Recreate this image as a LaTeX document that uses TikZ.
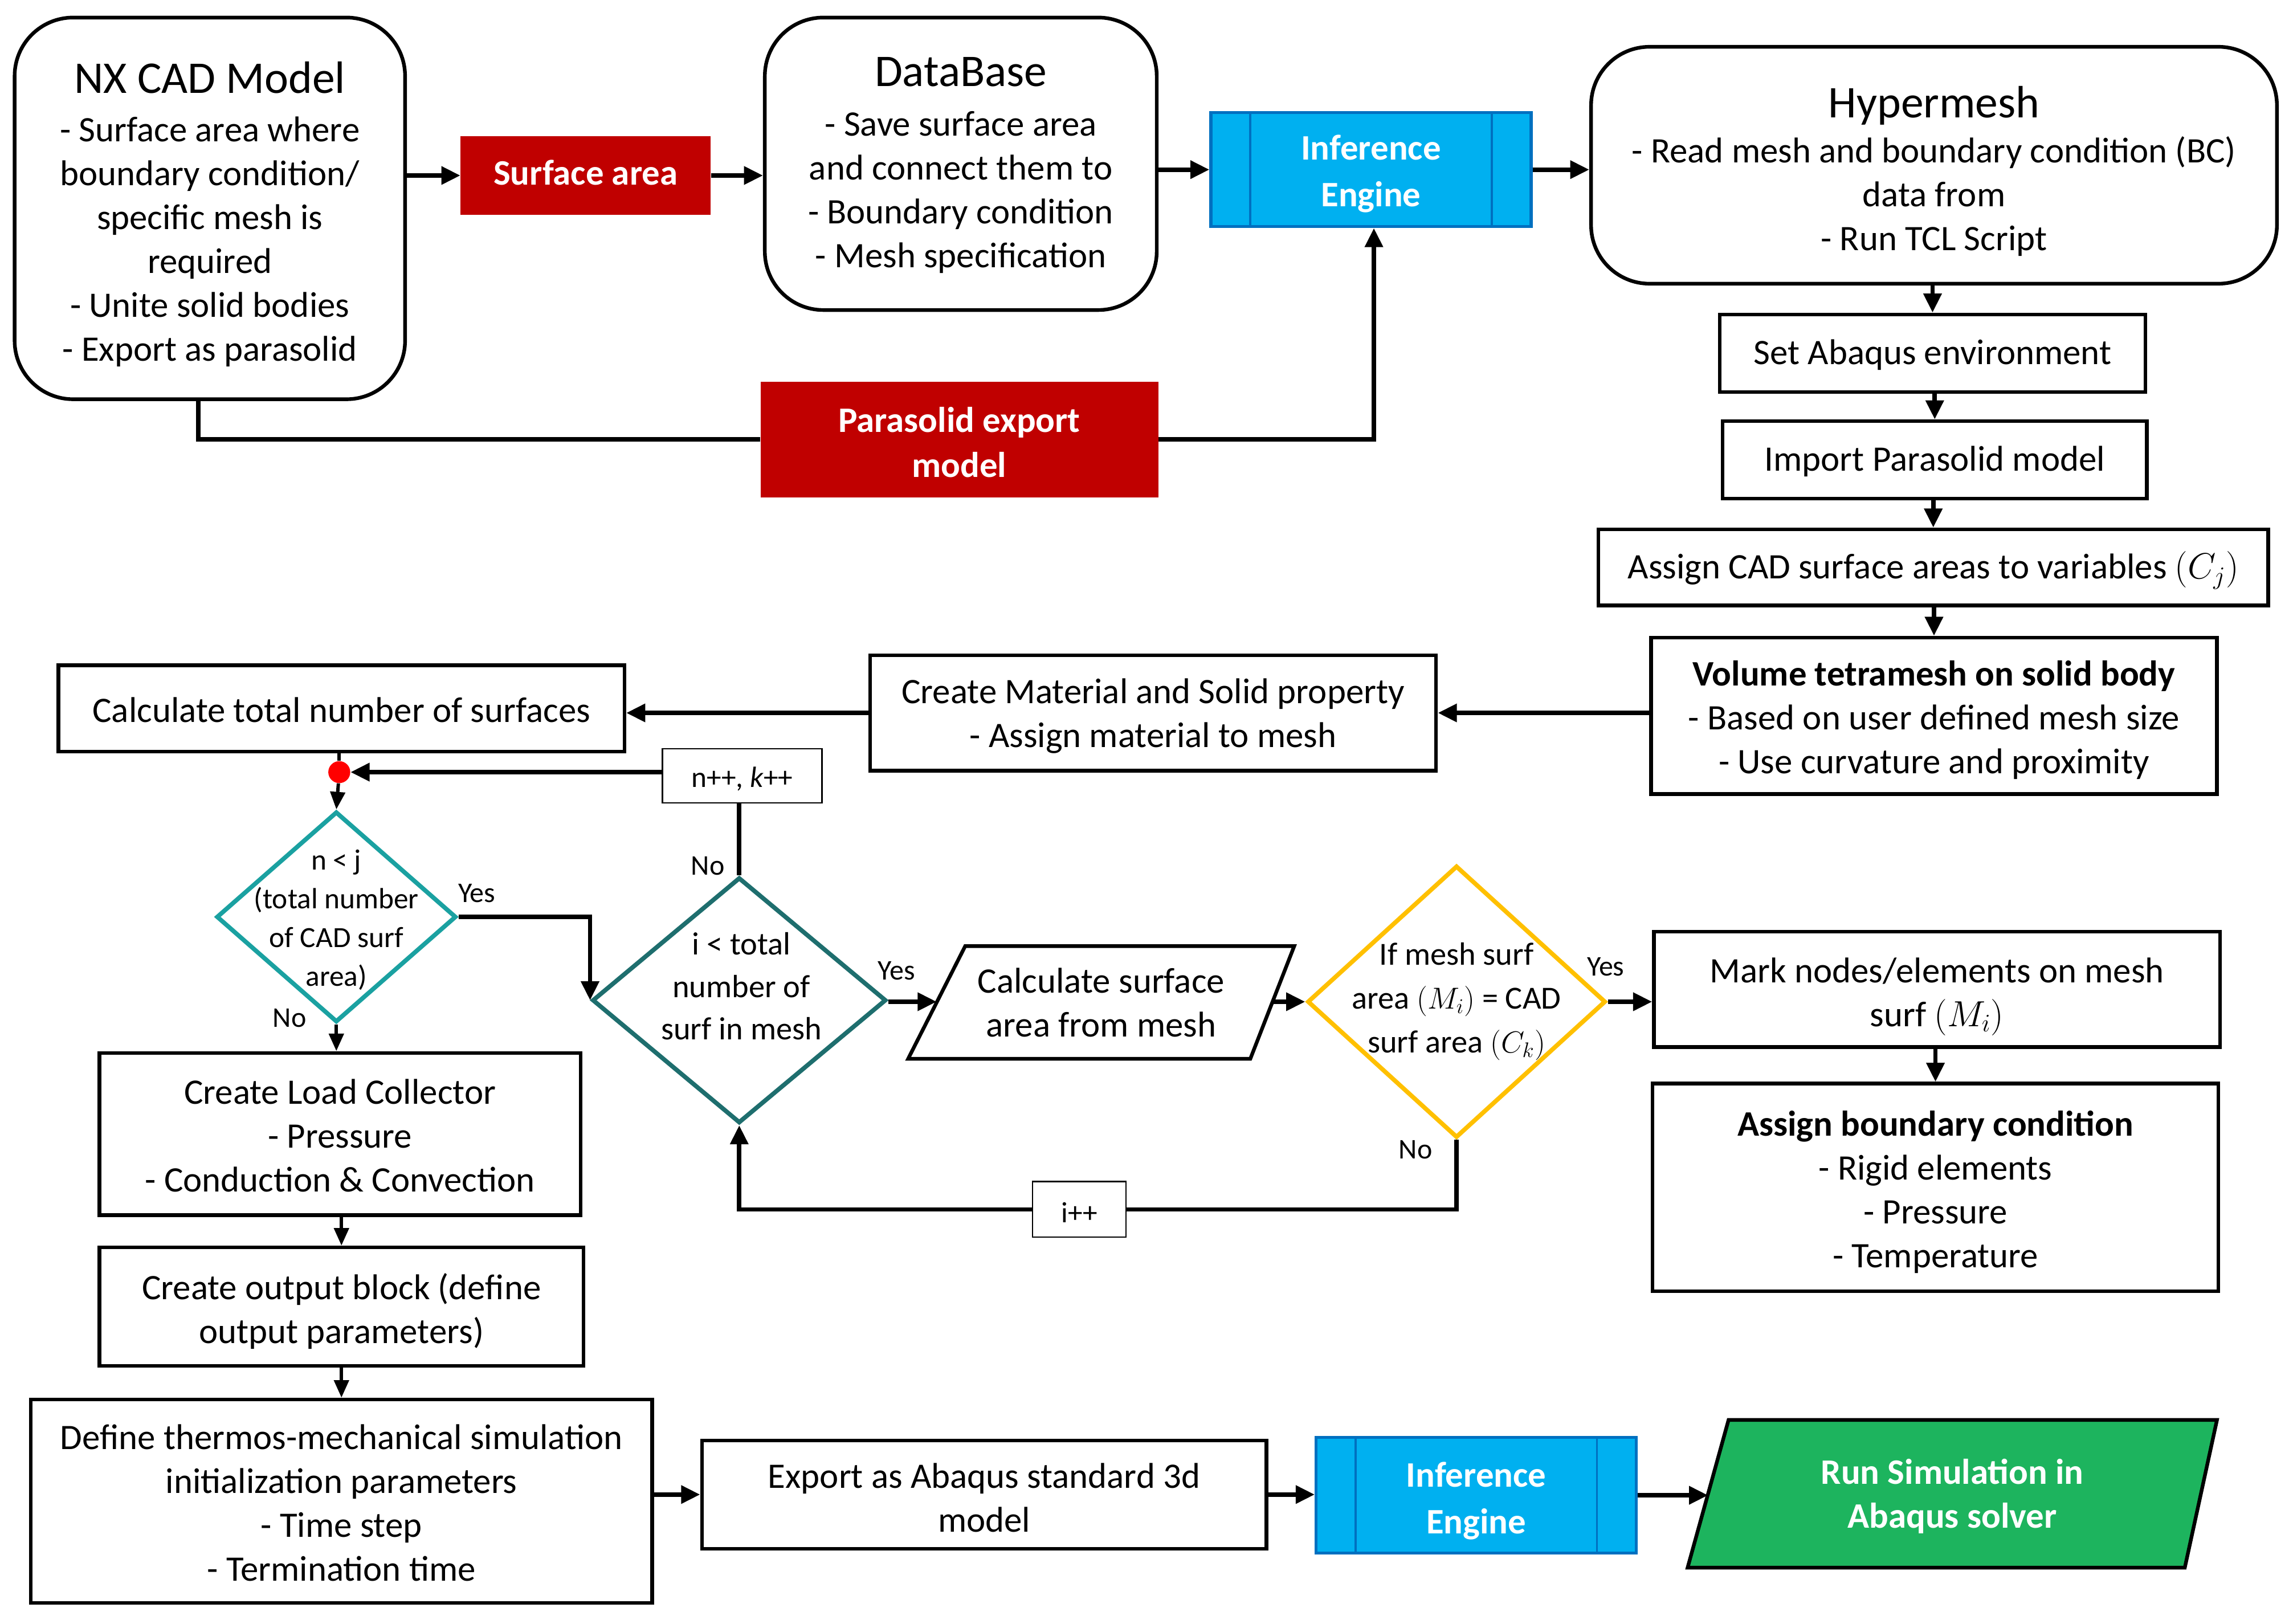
\documentclass[tikz,border=0pt]{standalone}
\usepackage{fontspec}
\setmainfont{Carlito}
\usetikzlibrary{arrows.meta,shapes.geometric}
\definecolor{cred}{HTML}{C00000}
\definecolor{cblue}{HTML}{00B0F0}
\definecolor{cblueb}{HTML}{0070C0}
\definecolor{cgreen}{HTML}{1DB45E}
\definecolor{cteal}{HTML}{1AA1A1}
\definecolor{cdteal}{HTML}{1E6E6E}
\definecolor{cyel}{HTML}{FFC000}
\tikzset{
  txt/.style={inner sep=0pt, align=center, font=\fontsize{24.5}{30}\selectfont},
  wtxt/.style={inner sep=0pt, align=center, text=white, font=\fontsize{24.5}{31}\selectfont\bfseries},
  box/.style={inner sep=0pt, draw, line width=2.5pt, rectangle},
  rbox/.style={box, rounded corners=40pt},
  thinbox/.style={inner sep=0pt, draw, line width=1pt},
  stxt/.style={inner sep=0pt, align=center, font=\fontsize{20}{24}\selectfont},
  redbox/.style={inner sep=0pt, fill=cred},
  iebox/.style={inner sep=0pt, fill=cblue, draw=cblueb, line width=2pt},
  dia/.style={diamond, draw, line width=3pt, inner sep=0pt},
  para/.style={draw, line width=2.5pt, line join=miter},
  arr/.style={line width=3pt, -{Triangle[length=13pt,width=12pt]}},
  sarr/.style={line width=2.3pt, -{Triangle[length=12pt,width=10pt]}},
  conn/.style={line width=3pt},
  lab/.style={font=\fontsize{19.5}{22}\selectfont, inner sep=0pt}
}
\begin{document}
\begin{tikzpicture}[x=1pt,y=-1pt]
\useasboundingbox (0,0) rectangle (1568,1110.5);
\fill[white] (0,0) rectangle (1568,1110.5);

% top row
\node[rbox, minimum width=267pt, minimum height=261pt] (nx) at (143.5,142.5) {};
\node[txt, yshift=-4pt] (nxt) at (nx) {{\fontsize{31}{30}\selectfont NX CAD Model}\\[3pt]- Surface area where\\boundary condition/\\specific mesh is\\required\\- Unite solid bodies\\- Export as parasolid};
\node[redbox, minimum width=171pt, minimum height=54pt] (sa) at (400.5,120) {};
\node[wtxt, yshift=2pt] (sat) at (sa) {Surface area};
\node[rbox, minimum width=268pt, minimum height=200pt] (db) at (657,112) {};
\node[txt, yshift=-1pt] (dbt) at (db) {{\fontsize{31}{30}\selectfont DataBase}\\[4pt]- Save surface area\\and connect them to\\- Boundary condition\\- Mesh specification};
\node[iebox, minimum width=219pt, minimum height=78pt] (ie1) at (937.5,116) {};
\draw[cblueb, line width=1.5pt] ([xshift=28pt]ie1.north west) -- ([xshift=28pt]ie1.south west);
\draw[cblueb, line width=1.5pt] ([xshift=-28pt]ie1.north east) -- ([xshift=-28pt]ie1.south east);
\node[wtxt, yshift=-3pt, font=\fontsize{24.5}{32}\selectfont\bfseries] (ie1t) at (ie1) {Inference\\Engine};
\node[rbox, minimum width=469pt, minimum height=162pt] (hm) at (1322.5,113) {};
\node[txt, yshift=-4pt] (hmt) at (hm) {{\fontsize{31}{30}\selectfont Hypermesh}\\[1pt]- Read mesh and boundary condition (BC)\\data from\\- Run TCL Script};
\node[redbox, minimum width=272pt, minimum height=79pt] (pe) at (656,300.5) {};
\node[wtxt, yshift=-2pt] (pet) at (pe) {Parasolid export\\model};

% right column
\node[box, minimum width=291pt, minimum height=53pt] (sae) at (1321.5,241.5) {};
\node[txt, yshift=-1pt] (saet) at (sae) {Set Abaqus environment};
\node[box, minimum width=290pt, minimum height=53pt] (ipm) at (1323,314.5) {};
\node[txt, yshift=-1pt] (ipmt) at (ipm) {Import Parasolid model};
\node[box, minimum width=458pt, minimum height=52pt] (acs) at (1322,388) {};
\node[txt, yshift=-2pt] (acst) at (acs) {Assign CAD surface areas to variables $(C_j)$};
\node[box, minimum width=387pt, minimum height=107pt] (vt) at (1322.5,489.5) {};
\node[txt, yshift=-3pt] (vtt) at (vt) {\textbf{Volume tetramesh on solid body}\\- Based on user defined mesh size\\- Use curvature and proximity};
\node[box, minimum width=387pt, minimum height=79pt] (cm) at (788.5,487.5) {};
\node[txt, yshift=-2pt] (cmt) at (cm) {Create Material and Solid property\\- Assign material to mesh};
\node[box, minimum width=387pt, minimum height=59pt] (ct) at (233.5,484.5) {};
\node[txt, yshift=-1pt] (ctt) at (ct) {Calculate total number of surfaces};

% loop
\node[circle, fill=red, minimum size=15pt, inner sep=0pt] (dot) at (232,528) {};
\node[thinbox, minimum width=109pt, minimum height=37pt] (nk) at (507.5,530.5) {};
\node[stxt, yshift=-2pt] (nkt) at (nk) {n++, \textit{k}++};
\node[dia, draw=cteal, minimum width=164pt, minimum height=144pt] (d1) at (230,627) {};
\node[txt, font=\fontsize{20}{26.5}\selectfont] (d1t) at (230,629) {n < j\\(total number\\of CAD surf\\area)};
\node[dia, draw=cdteal, minimum width=201pt, minimum height=168pt] (d2) at (505.5,684) {};
\node[txt, font=\fontsize{22}{29}\selectfont] (d2t) at (507,674.5) {i < total\\number of\\surf in mesh};
% parallelogram: calculate surface area
\draw[para] (660,647) -- (885,647) -- (855,724) -- (621,724) -- cycle;
\coordinate (paw) at (640.5,685);
\coordinate (pae) at (870,685);
\node[txt] (pat) at (753,685.5) {Calculate surface\\area from mesh};
\node[dia, draw=cyel, minimum width=204pt, minimum height=186pt] (d3) at (996,685) {};
\node[txt, font=\fontsize{22}{30}\selectfont] (d3t) at (996,685) {If mesh surf\\area $(M_i)$ = CAD\\surf area $(C_k)$};
\node[thinbox, minimum width=64pt, minimum height=38pt] (ipp) at (738,827) {};
\node[stxt, yshift=-2pt] (ippt) at (ipp) {i++};
\node[box, minimum width=387pt, minimum height=79pt] (mn) at (1324.5,676.5) {};
\node[txt, yshift=-5pt] (mnt) at (mn) {Mark nodes/elements on mesh\\surf $(M_i)$};
\node[box, minimum width=387pt, minimum height=142pt] (ab) at (1323.5,812) {};
\node[txt, yshift=-3pt] (abt) at (ab) {\textbf{Assign boundary condition}\\- Rigid elements\\- Pressure\\- Temperature};

% left column
\node[box, minimum width=329pt, minimum height=111pt] (lc) at (232.5,775.5) {};
\node[txt, yshift=-1pt] (lct) at (lc) {Create Load Collector\\- Pressure\\- Conduction \& Convection};
\node[box, minimum width=331pt, minimum height=81pt] (ob) at (233.5,893.5) {};
\node[txt, yshift=-3pt] (obt) at (ob) {Create output block (define\\output parameters)};
\node[box, minimum width=425pt, minimum height=139pt] (df) at (233.5,1026.5) {};
\node[txt, yshift=-1pt] (dft) at (df) {Define thermos-mechanical simulation\\initialization parameters\\- Time step\\- Termination time};
\node[box, minimum width=386pt, minimum height=74pt] (ex) at (673,1022) {};
\node[txt, yshift=-2pt] (ext) at (ex) {Export as Abaqus standard 3d\\model};
\node[iebox, minimum width=219pt, minimum height=79pt] (ie2) at (1009.5,1022.5) {};
\draw[cblueb, line width=1.5pt] ([xshift=28pt]ie2.north west) -- ([xshift=28pt]ie2.south west);
\draw[cblueb, line width=1.5pt] ([xshift=-28pt]ie2.north east) -- ([xshift=-28pt]ie2.south east);
\node[wtxt, yshift=-4pt, font=\fontsize{24.5}{32}\selectfont\bfseries] (ie2t) at (ie2) {Inference\\Engine};
% parallelogram: run simulation
\draw[para, fill=cgreen] (1182,971) -- (1516,971) -- (1494,1072) -- (1154,1072) -- cycle;
\coordinate (rsw) at (1168,1022.5);
\node[wtxt, font=\fontsize{24.5}{30}\selectfont\bfseries] (rst) at (1335,1023) {Run Simulation in\\Abaqus solver};

% labels
\node[lab] (y1) at (326,611) {Yes};
\node[lab] (n1) at (198,696) {No};
\node[lab] (n2) at (484,592) {No};
\node[lab] (y2) at (613,664) {Yes};
\node[lab] (y3) at (1098,661) {Yes};
\node[lab] (n3) at (968,786) {No};

% connectors top
\draw[arr] (sa.west -| nx.east) -- (sa.west);
\draw[arr] (sa.east) -- (sa.east -| db.west);
\draw[arr] (ie1.west -| db.east) -- (ie1.west);
\draw[arr] (ie1.east) -- (ie1.east -| hm.west);
\draw[conn] ([xshift=-8pt]nx.south) |- (pe.west);
\draw[arr] (pe.east) -| ([xshift=2pt]ie1.south);
\draw[arr] (sae.north |- hm.south) -- (sae.north);
\draw[arr] (ipm.north |- sae.south) -- (ipm.north);
\draw[arr] (acs.north |- ipm.south) -- (acs.north);
\draw[arr] (vt.north |- acs.south) -- (vt.north);
\draw[arr] (cm.east -| vt.west) -- (cm.east);
\draw[arr] (cm.west) -- (cm.west -| ct.east);

% loop connectors
\draw[line width=2.3pt] (dot |- ct.south) -- (dot);
\draw[sarr] (dot) -- (d1.north);
\draw[arr] (dot.east -| nk.west) -- (dot.east);
\draw[conn] (d2.north) -- (d2.north |- nk.south);
\draw[arr] (d1.east) -| (d2.west);
\draw[arr] (d2.east |- paw) -- (paw);
\draw[arr] (pae) -- (pae -| d3.west);
\draw[arr] (d3.east) -- (d3.east -| mn.west);
\draw[arr] (ab.north |- mn.south) -- (ab.north);
\draw[conn] (d3.south) |- (ipp.east);
\draw[arr] (ipp.west) -| (d2.south);

% left column connectors
\draw[sarr] (d1.south) -- (d1.south |- lc.north);
\draw[sarr] (lc.south -| ob.north) -- (ob.north);
\draw[sarr] (ob.south) -- (ob.south |- df.north);
\draw[arr] (ex.west -| df.east) -- (ex.west);
\draw[arr] (ex.east) -- (ex.east -| ie2.west);
\draw[arr] (ie2.east |- rsw) -- (rsw);
\end{tikzpicture}
\end{document}
